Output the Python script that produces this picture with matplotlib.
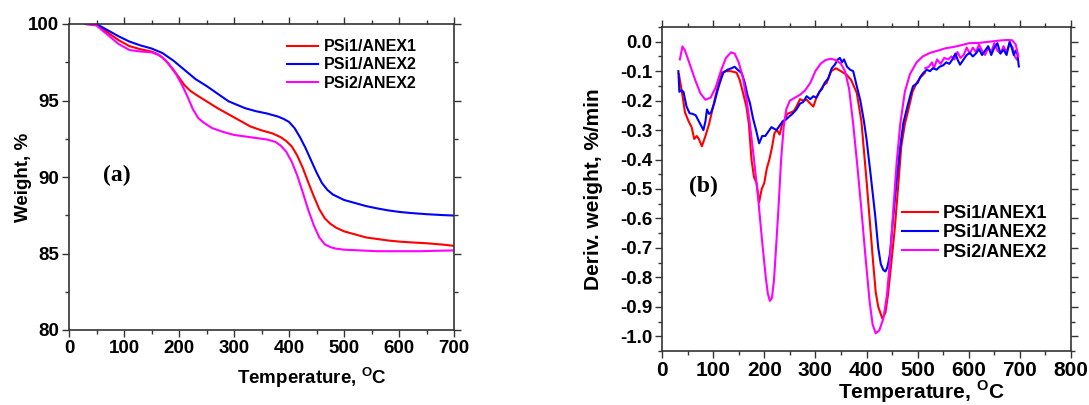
import matplotlib
matplotlib.use("Agg")
import matplotlib.pyplot as plt
from matplotlib.ticker import MultipleLocator, FormatStrFormatter

plt.rcParams['font.family'] = ['Liberation Sans', 'DejaVu Sans']
plt.rcParams['font.weight'] = 'bold'
plt.rcParams['axes.unicode_minus'] = False
plt.rcParams['mathtext.fontset'] = 'custom'
plt.rcParams['mathtext.rm'] = 'Liberation Sans:bold'
plt.rcParams['mathtext.bf'] = 'Liberation Sans:bold'

# ---------------- (a) TGA data ----------------
tga_T_red = [30, 50, 70, 90, 110, 130, 150, 160, 170, 180, 190, 200, 210, 220, 230, 250, 270, 290, 310,
             330, 350, 370, 385, 395, 405, 415, 425, 435, 445, 455, 465, 475, 485, 500, 520, 540, 560,
             580, 600, 620, 650, 680, 700]
tga_w_red = [100.0, 99.95, 99.45, 98.95, 98.55, 98.35, 98.2, 98.05, 97.8, 97.45, 97.0, 96.5, 96.0, 95.65,
             95.4, 94.95, 94.5, 94.1, 93.7, 93.3, 93.05, 92.85, 92.6, 92.35, 92.0, 91.4, 90.6, 89.65,
             88.75, 87.9, 87.3, 86.95, 86.7, 86.45, 86.25, 86.05, 85.95, 85.85, 85.78, 85.73, 85.67,
             85.58, 85.5]

tga_T_blue = [30, 50, 70, 90, 110, 130, 150, 170, 190, 210, 230, 250, 270, 290, 310, 320, 340, 360, 380,
              390, 400, 410, 420, 430, 440, 450, 460, 470, 480, 500, 520, 540, 560, 580, 600, 620, 650,
              680, 700]
tga_w_blue = [100.0, 100.0, 99.6, 99.2, 98.85, 98.6, 98.4, 98.1, 97.6, 97.0, 96.4, 95.95, 95.45, 94.95,
              94.65, 94.5, 94.3, 94.15, 93.95, 93.8, 93.6, 93.2, 92.6, 91.9, 91.1, 90.3, 89.6, 89.15,
              88.85, 88.5, 88.3, 88.1, 87.95, 87.82, 87.72, 87.65, 87.57, 87.51, 87.48]

tga_T_pink = [30, 50, 70, 90, 110, 130, 150, 165, 175, 185, 195, 205, 215, 225, 235, 245, 260, 280, 300,
              330, 360, 375, 385, 395, 405, 415, 425, 435, 445, 455, 465, 475, 485, 500, 530, 560, 600,
              640, 670, 700]
tga_w_pink = [100.0, 99.9, 99.3, 98.7, 98.3, 98.2, 98.15, 97.95, 97.65, 97.2, 96.7, 96.05, 95.3, 94.45,
              93.85, 93.55, 93.2, 92.95, 92.75, 92.6, 92.45, 92.3, 92.05, 91.65, 91.0, 90.1, 89.0, 87.85,
              86.85, 86.05, 85.6, 85.42, 85.32, 85.25, 85.2, 85.15, 85.15, 85.15, 85.18, 85.2]

# ---------------- (b) DTG data ----------------
dtg_T_red = [33, 38, 45, 52, 58, 63, 68, 72, 78, 85, 92, 100, 108, 117, 125, 135, 146, 152, 158, 165,
             170, 175, 180, 185, 190, 195, 200, 205, 210, 215, 220, 225, 230, 235, 240, 245, 252, 258,
             263, 270, 276, 283, 290, 296, 302, 308, 315, 322, 331, 340, 350, 361, 370, 381, 390, 400,
             407, 413, 418, 423, 431, 437, 442, 448, 455, 462, 468, 475, 482, 490, 498, 506, 514]
dtg_v_red = [-0.11, -0.16, -0.24, -0.27, -0.29, -0.33, -0.32, -0.33, -0.355, -0.32, -0.28, -0.22, -0.16,
             -0.105, -0.10, -0.10, -0.105, -0.13, -0.17, -0.22, -0.28, -0.40, -0.46, -0.48, -0.545, -0.50,
             -0.48, -0.43, -0.40, -0.36, -0.31, -0.30, -0.315, -0.28, -0.265, -0.245, -0.24, -0.235, -0.22,
             -0.195, -0.20, -0.197, -0.21, -0.22, -0.19, -0.17, -0.15, -0.14, -0.10, -0.09, -0.10, -0.112,
             -0.13, -0.174, -0.27, -0.47, -0.62, -0.75, -0.85, -0.90, -0.94, -0.92, -0.86, -0.76, -0.64,
             -0.49, -0.355, -0.28, -0.23, -0.17, -0.14, -0.12, -0.106]

dtg_T_blue = [32, 34, 38, 42, 48, 54, 60, 66, 72, 78, 81, 85, 88, 92, 96, 102, 108, 113, 120, 128, 136,
              142, 148, 156, 162, 167, 172, 178, 184, 190, 196, 202, 208, 214, 219, 224, 230, 236, 242,
              248, 255, 263, 270, 276, 283, 290, 296, 302, 308, 313, 318, 325, 332, 338, 344, 348, 352,
              356, 362, 368, 374, 381, 388, 395, 400, 408, 417, 423, 428, 433, 437, 441, 446, 452, 459,
              465, 472, 480, 486, 491, 500, 505, 511, 518, 524, 530, 537, 543, 550, 556, 562, 568, 574,
              578, 583, 590, 596, 602, 608, 614, 620, 626, 632, 638, 644, 650, 656, 662, 668, 674, 680,
              684, 688, 692, 695, 698]
dtg_v_blue = [-0.10, -0.17, -0.165, -0.17, -0.22, -0.243, -0.245, -0.25, -0.27, -0.29, -0.30, -0.27,
              -0.23, -0.245, -0.24, -0.21, -0.17, -0.14, -0.105, -0.095, -0.09, -0.085, -0.095, -0.107,
              -0.14, -0.18, -0.208, -0.26, -0.30, -0.345, -0.32, -0.32, -0.305, -0.29, -0.295, -0.30,
              -0.285, -0.27, -0.265, -0.255, -0.245, -0.23, -0.21, -0.205, -0.185, -0.195, -0.185, -0.19,
              -0.17, -0.16, -0.14, -0.125, -0.09, -0.078, -0.06, -0.055, -0.07, -0.06, -0.085, -0.095,
              -0.10, -0.151, -0.20, -0.27, -0.33, -0.45, -0.59, -0.70, -0.755, -0.775, -0.78, -0.765,
              -0.72, -0.60, -0.47, -0.37, -0.276, -0.22, -0.18, -0.151, -0.14, -0.12, -0.106, -0.095,
              -0.10, -0.09, -0.095, -0.085, -0.08, -0.07, -0.075, -0.06, -0.04, -0.06, -0.078, -0.06,
              -0.045, -0.038, -0.05, -0.04, -0.025, -0.045, -0.03, -0.015, -0.045, -0.02, -0.005, -0.04,
              -0.027, -0.045, 0.0, -0.02, -0.045, -0.03, -0.04, -0.084]

dtg_T_pink = [35, 40, 45, 55, 65, 75, 85, 95, 105, 115, 125, 135, 142, 150, 158, 165, 172, 180, 188, 196,
              203, 207, 211, 215, 219, 222, 228, 233, 238, 243, 250, 260, 270, 280, 290, 300, 310, 320,
              330, 340, 350, 358, 366, 374, 382, 390, 398, 406, 412, 418, 425, 433, 440, 446, 452, 459,
              466, 475, 485, 498, 510, 524, 540, 555, 570, 585, 600, 620, 640, 660, 675, 685, 692, 697]
dtg_v_pink = [-0.06, -0.016, -0.03, -0.08, -0.13, -0.175, -0.197, -0.19, -0.155, -0.10, -0.055, -0.036,
              -0.04, -0.07, -0.12, -0.19, -0.28, -0.40, -0.53, -0.68, -0.80, -0.855, -0.88, -0.87, -0.81,
              -0.73, -0.56, -0.40, -0.29, -0.23, -0.20, -0.19, -0.18, -0.165, -0.14, -0.10, -0.075,
              -0.062, -0.058, -0.062, -0.075, -0.10, -0.16, -0.28, -0.42, -0.57, -0.73, -0.88, -0.96,
              -0.99, -0.98, -0.94, -0.86, -0.74, -0.58, -0.41, -0.28, -0.17, -0.11, -0.07, -0.05, -0.038,
              -0.03, -0.022, -0.018, -0.012, -0.005, -0.004, 0.0, 0.004, 0.006, 0.005, -0.01, -0.05]

dtg_T_pink_b = [515, 522, 528, 532, 538, 545, 552, 560, 566, 572, 578, 584, 590, 596, 602, 608, 614, 620,
                626, 632, 638, 644, 650, 656, 662, 668, 674, 680, 686, 690, 694]
dtg_v_pink_b = [-0.09, -0.085, -0.07, -0.09, -0.06, -0.075, -0.055, -0.06, -0.05, -0.06, -0.035, -0.055,
                -0.045, -0.02, -0.04, -0.02, -0.035, -0.01, -0.03, -0.045, -0.02, -0.035, -0.005, -0.03,
                -0.04, -0.015, -0.035, -0.005, -0.02, -0.05, -0.06]

labels = ['PSi1/ANEX1', 'PSi1/ANEX2', 'PSi2/ANEX2']
colors = ['#ff0000', '#0000ff', '#ff00ff']

fig = plt.figure(figsize=(10.89, 4.05), dpi=100)
axa = fig.add_axes([69/1089, 1-330/405, 385/1089, 306/405])
axb = fig.add_axes([662/1089, 1-351/405, 409/1089, 324/405])

LW = 1.5
axa.plot(tga_T_red, tga_w_red, color=colors[0], lw=LW, label=labels[0])
axa.plot(tga_T_blue, tga_w_blue, color=colors[1], lw=LW, label=labels[1])
axa.plot(tga_T_pink, tga_w_pink, color=colors[2], lw=LW, label=labels[2])

axb.plot(dtg_T_pink_b, dtg_v_pink_b, color=colors[2], lw=LW)
axb.plot(dtg_T_red, dtg_v_red, color=colors[0], lw=LW, label=labels[0])
axb.plot(dtg_T_blue, dtg_v_blue, color=colors[1], lw=LW, label=labels[1])
axb.plot(dtg_T_pink, dtg_v_pink, color=colors[2], lw=LW, label=labels[2])

axa.set_xlim(0, 700)
axa.set_ylim(80, 100)
axa.xaxis.set_major_locator(MultipleLocator(100))
axa.xaxis.set_minor_locator(MultipleLocator(50))
axa.yaxis.set_major_locator(MultipleLocator(5))
axa.yaxis.set_minor_locator(MultipleLocator(2.5))

axb.set_xlim(0, 800)
axb.set_ylim(-1.05, 0.05)
axb.xaxis.set_major_locator(MultipleLocator(100))
axb.xaxis.set_minor_locator(MultipleLocator(50))
axb.yaxis.set_major_locator(MultipleLocator(0.1))
axb.yaxis.set_minor_locator(MultipleLocator(0.05))
axb.yaxis.set_major_formatter(FormatStrFormatter('%.1f'))

for ax in (axa, axb):
    for s in ax.spines.values():
        s.set_linewidth(1.2)
        s.set_color('#333333')
    ax.tick_params(which='both', direction='out', top=True, right=True, color='#333333', width=1.0)
    ax.tick_params(which='major', length=5)
    ax.tick_params(which='minor', length=3)

axa.tick_params(axis='both', labelsize=13.5, pad=2)
axb.tick_params(axis='x', labelsize=15, pad=2)
axb.tick_params(axis='y', labelsize=13.5, pad=2)
for ax in (axa, axb):
    for lab in ax.get_xticklabels() + ax.get_yticklabels():
        lab.set_fontweight('bold')

axa.set_xlabel(r'Temperature, $^{\mathbf{O}}$C', fontsize=13.5, fontweight='bold')
axa.xaxis.set_label_coords(0.632, -0.115)
axa.set_ylabel('Weight, %', fontsize=13.5, fontweight='bold')
axa.yaxis.set_label_coords(-0.095, 0.5)

axb.set_xlabel(r'Temperature, $^{\mathbf{O}}$C', fontsize=15, fontweight='bold')
axb.xaxis.set_label_coords(0.634, -0.086)
axb.set_ylabel('Deriv. weight, %/min', fontsize=15, fontweight='bold')
axb.yaxis.set_label_coords(-0.145, 0.5)

axa.text(62, 90.1, '(a)', fontsize=17, fontweight='bold', family='Liberation Serif', va='center', ha='left')
axb.text(53, -0.49, '(b)', fontsize=17, fontweight='bold', family='Liberation Serif', va='center', ha='left')

la = axa.legend(loc='upper left', bbox_to_anchor=(0.565, 0.95), frameon=False, fontsize=11.5,
                handlelength=2.0, handletextpad=0.35, labelspacing=0.2, borderpad=0, borderaxespad=0)
lb = axb.legend(loc='upper left', bbox_to_anchor=(0.588, 0.45), frameon=False, fontsize=13,
                handlelength=1.95, handletextpad=0.3, labelspacing=0.12, borderpad=0, borderaxespad=0)
for lg in (la, lb):
    for t in lg.get_texts():
        t.set_fontweight('bold')

fig.savefig('out.png', dpi=100)
